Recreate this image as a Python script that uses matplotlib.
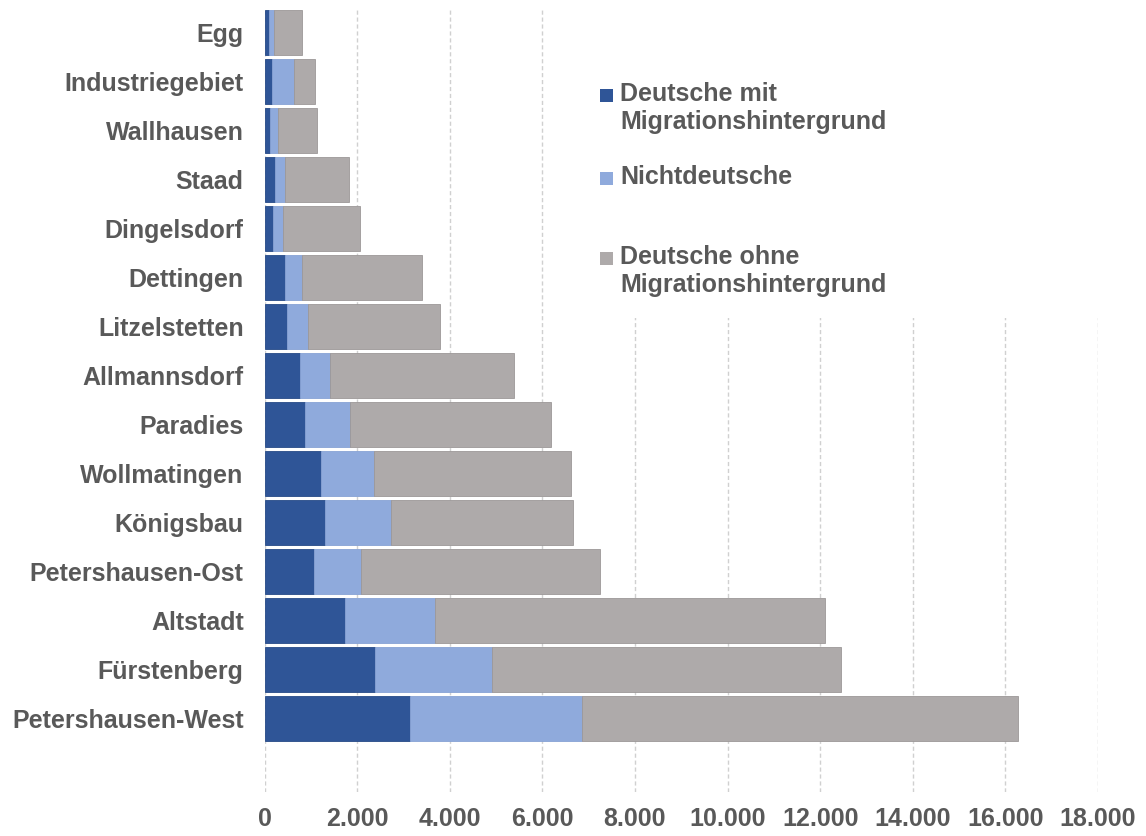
import numpy as np
import matplotlib.pyplot as plt
from matplotlib.patches import Rectangle
from matplotlib.ticker import FuncFormatter

plt.rcParams['font.family'] = ['Liberation Sans', 'DejaVu Sans']
plt.rcParams['font.weight'] = 'bold'

## Data (Egg on top)
districts = ['Egg', 'Industriegebiet', 'Wallhausen', 'Staad', 'Dingelsdorf',
             'Dettingen', 'Litzelstetten', 'Allmannsdorf', 'Paradies',
             'Wollmatingen', 'Königsbau', 'Petershausen-Ost', 'Altstadt',
             'Fürstenberg', 'Petershausen-West']
deutsche_mit = [100, 170, 125, 220, 190, 440, 490, 760, 880,
                1225, 1300, 1075, 1745, 2385, 3150]
nichtdeutsche = [100, 470, 170, 230, 200, 380, 450, 650, 965,
                 1140, 1440, 1015, 1945, 2520, 3710]
deutsche_ohne = [610, 450, 845, 1380, 1680, 2575, 2850, 3985, 4335,
                 4255, 3920, 5150, 8415, 7545, 9420]

series = ['Deutsche mit\nMigrationshintergrund', 'Nichtdeutsche',
          'Deutsche ohne\nMigrationshintergrund']
colors = ['#2F5597', '#8FAADC', '#AEAAAA']
edges = ['#264a87', '#87a2d4', '#9c9898']
txt = '#595959'

fig = plt.figure(figsize=(11.46, 8.36), dpi=100)
ax = fig.add_axes([264.5 / 1146, 1 - 792 / 836, (1098 - 264.5) / 1146, (792 - 8) / 836])

y = np.arange(len(districts))
left = np.zeros(len(districts))
for vals, c, ec, lab in zip([deutsche_mit, nichtdeutsche, deutsche_ohne], colors, edges, series):
    v = np.array(vals, dtype=float)
    ax.barh(y, v, left=left, height=0.9, color=c, edgecolor=ec, linewidth=0.6,
            label=lab, zorder=3)
    left += v

ax.set_xlim(0, 18000)
ax.set_ylim(len(districts) + 0.5, -0.5)
ax.set_xticks(np.arange(0, 18001, 2000))
ax.xaxis.set_major_formatter(FuncFormatter(lambda v, p: f'{int(v):,}'.replace(',', '.')))
ax.set_yticks(y)
ax.set_yticklabels(districts)
ax.tick_params(axis='both', length=0, labelsize=18, labelcolor=txt)
ax.tick_params(axis='x', pad=11)
ax.tick_params(axis='y', pad=15)
for s in ax.spines.values():
    s.set_visible(False)
ax.grid(axis='x', color='#D0D0D0', linestyle=(0, (3, 2)), linewidth=1.0, zorder=0)
ax.set_axisbelow(True)

# legend drawn by hand (uneven spacing as in the original)
W, H = 1146, 836
fig.patches.append(Rectangle((580 / W, 1 - 318 / H), (W - 580) / W, 318 / H,
                             transform=fig.transFigure, facecolor='white',
                             edgecolor='none', zorder=1))
legend_y = [95, 178, 258]
for c, lab, yy in zip(colors, series, legend_y):
    fig.patches.append(Rectangle((600 / W, 1 - (yy + 6.5) / H), 13 / W, 13 / H,
                                 transform=fig.transFigure, facecolor=c,
                                 edgecolor='none', zorder=2))
    fig.text(620 / W, 1 - (yy - 13) / H, lab, ha='left', va='top', fontsize=18,
             color=txt, fontweight='bold', linespacing=1.2, zorder=2)

plt.savefig('out.png', dpi=100)
